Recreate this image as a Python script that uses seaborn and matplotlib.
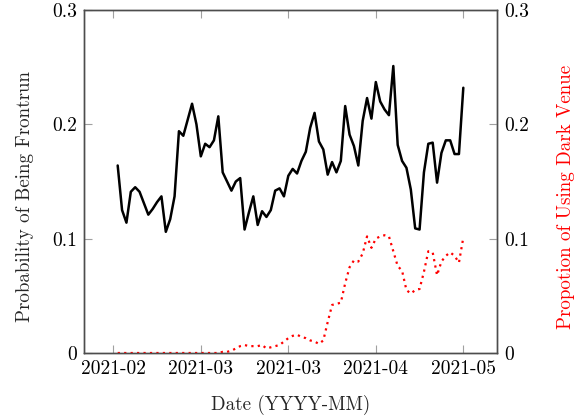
import matplotlib
matplotlib.use("Agg")
import matplotlib.pyplot as plt
import seaborn as sns
import pandas as pd
from matplotlib.ticker import FixedLocator, FixedFormatter

# ---- data ----
day_index = list(range(1, 81))
prob_frontrun = [
    0.164, 0.125, 0.114, 0.141, 0.145, 0.141, 0.131, 0.121, 0.126, 0.132,
    0.137, 0.106, 0.117, 0.137, 0.194, 0.190, 0.204, 0.218, 0.200, 0.172,
    0.183, 0.180, 0.186, 0.207, 0.158, 0.150, 0.142, 0.150, 0.153, 0.108,
    0.123, 0.137, 0.112, 0.124, 0.119, 0.125, 0.142, 0.144, 0.137, 0.155,
    0.161, 0.157, 0.168, 0.176, 0.197, 0.210, 0.185, 0.178, 0.156, 0.167,
    0.158, 0.168, 0.216, 0.191, 0.181, 0.164, 0.203, 0.223, 0.205, 0.237,
    0.220, 0.213, 0.208, 0.251, 0.182, 0.168, 0.162, 0.143, 0.109, 0.108,
    0.158, 0.183, 0.184, 0.149, 0.175, 0.186, 0.186, 0.174, 0.174, 0.232,
]
dark_venue_share = [
    0.000, 0.000, 0.000, 0.000, 0.000, 0.000, 0.000, 0.000, 0.000, 0.000,
    0.000, 0.000, 0.000, 0.000, 0.000, 0.000, 0.000, 0.000, 0.000, 0.000,
    0.000, 0.000, 0.000, 0.000, 0.001, 0.001, 0.002, 0.004, 0.006, 0.007,
    0.006, 0.006, 0.006, 0.007, 0.004, 0.005, 0.006, 0.007, 0.010, 0.013,
    0.015, 0.016, 0.014, 0.013, 0.011, 0.010, 0.008, 0.011, 0.027, 0.042,
    0.043, 0.044, 0.061, 0.075, 0.081, 0.080, 0.087, 0.102, 0.092, 0.100,
    0.102, 0.103, 0.102, 0.089, 0.076, 0.072, 0.055, 0.052, 0.055, 0.056,
    0.071, 0.089, 0.088, 0.068, 0.080, 0.085, 0.088, 0.085, 0.079, 0.101,
]
x_tick_pos = [0, 20, 40, 60, 80]
x_tick_labels = ["2021-02", "2021-03", "2021-03", "2021-04", "2021-05"]
y_tick_pos = [0, 0.1, 0.2, 0.3]
y_tick_labels = ["0", "0.1", "0.2", "0.3"]

df = pd.DataFrame({"day": day_index, "prob": prob_frontrun, "dark": dark_venue_share})

sns.set_theme(style="white")
plt.rcParams["font.family"] = ["cmr10", "DejaVu Serif"]
plt.rcParams["axes.formatter.use_mathtext"] = True
plt.rcParams["mathtext.fontset"] = "cm"

fs_tick = 14
fs_label = 13.7
spine_col = "#4d4d4d"
tick_col = "#a0a0a0"

fig = plt.figure(figsize=(5.77, 4.19), dpi=100)
ax = fig.add_axes([84 / 577, 1 - 353 / 419, (497 - 84) / 577, (353 - 10) / 419])
ax2 = ax.twinx()

sns.lineplot(data=df, x="day", y="prob", ax=ax, color="black", linewidth=1.8)
sns.lineplot(data=df, x="day", y="dark", ax=ax2, color="red", linewidth=1.6)
ax2.lines[0].set_dashes((1, 1.9))

for a in (ax, ax2):
    a.set_xlim(-6.7, 87.7)
    a.set_ylim(0, 0.3)
    a.yaxis.set_major_locator(FixedLocator(y_tick_pos))
    a.yaxis.set_major_formatter(FixedFormatter(y_tick_labels))
    for s in a.spines.values():
        s.set_color(spine_col)
        s.set_linewidth(1.0)
    a.grid(False)

ax.xaxis.set_major_locator(FixedLocator(x_tick_pos))
ax.xaxis.set_major_formatter(FixedFormatter(x_tick_labels))
ax.tick_params(axis="x", which="major", direction="in", length=6, width=0.8,
               color=tick_col, top=True, bottom=True, labelsize=fs_tick, pad=5,
               labelcolor="black")
ax.tick_params(axis="y", which="major", direction="in", length=6, width=0.8,
               color=tick_col, left=True, right=False, labelsize=fs_tick, pad=5,
               labelcolor="black")
ax2.tick_params(axis="y", which="major", direction="in", length=6, width=0.8,
                color=tick_col, right=True, left=False, labelsize=fs_tick, pad=5,
                labelcolor="black")

ax.set_xlabel("Date (YYYY-MM)", fontsize=fs_label, labelpad=12)
ax.set_ylabel("Probability of Being Frontrun", fontsize=fs_label)
ax2.set_ylabel("Propotion of Using Dark Venue", fontsize=fs_label, color="red")
label_y = (353 - 197) / 343
ax.yaxis.set_label_coords((34 - 84) / 413, label_y)
ax2.yaxis.set_label_coords((557 - 84) / 413, label_y)

fig.savefig("out.png", dpi=100)
